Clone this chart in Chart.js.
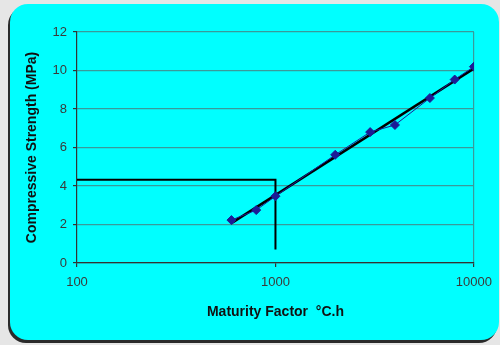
<!DOCTYPE html>
<html>
<head>
<meta charset="utf-8">
<script src="https://cdn.jsdelivr.net/npm/chart.js@4"></script>
<style>
  body { margin: 0; background: #e6e6e6; width: 500px; height: 345px; overflow: hidden; position: relative; }
  #panel { position: absolute; left: 10px; top: 4px; width: 489px; height: 336px; background: #00ffff;
           border-radius: 18px; box-shadow: -2px 3px 0 #2a2a2a; }
  #wrap { position: absolute; left: 0; top: 0; width: 500px; height: 345px; }
</style>
</head>
<body>
<div id="panel"></div>
<div id="wrap"><canvas id="maturityChart"></canvas></div>
<script>
// maturity (°C.h) vs strength (MPa)
const maturity = [600, 800, 1000, 2000, 3000, 4000, 6000, 8000, 10000];
const strength = [2.23, 2.75, 3.47, 5.62, 6.8, 7.17, 8.57, 9.53, 10.2];
// reading lines: strength at 1000 °C.h
const refX = [100, 1000, 1000];
const refY = [4.33, 4.33, 0.7];
const xTicks = [100, 1000, 10000];
const yTicks = [0, 2, 4, 6, 8, 10, 12];

// log fit for the trend line
function logFit(xs, ys) {
  const lx = xs.map(v => Math.log10(v));
  const n = xs.length;
  const mx = lx.reduce((a, b) => a + b, 0) / n;
  const my = ys.reduce((a, b) => a + b, 0) / n;
  let sxy = 0, sxx = 0;
  lx.forEach((v, i) => { sxy += (v - mx) * (ys[i] - my); sxx += (v - mx) * (v - mx); });
  const b = sxy / sxx;
  return x => my + b * (Math.log10(x) - mx);
}
const fit = logFit(maturity, strength);
const trendX = [maturity[0], maturity[maturity.length - 1]];

const tickFont = { family: 'Liberation Sans', size: 13 };
const titleFont = { family: 'Liberation Sans', size: 14, weight: 'bold' };

new Chart(document.getElementById('maturityChart'), {
  type: 'scatter',
  data: {
    datasets: [
      {
        label: 'Strength',
        data: maturity.map((x, i) => ({ x, y: strength[i] })),
        showLine: true,
        borderColor: '#1c1c96',
        borderWidth: 1,
        backgroundColor: '#1c1c96',
        pointStyle: 'rectRot',
        pointRadius: 4.5,
        order: 0
      },
      {
        label: 'Trend',
        data: trendX.map(x => ({ x, y: fit(x) })),
        showLine: true,
        borderColor: '#000000',
        borderWidth: 2.5,
        pointRadius: 0,
        order: 1
      },
      {
        label: 'Reading',
        data: refX.map((x, i) => ({ x, y: refY[i] })),
        showLine: true,
        borderColor: '#000000',
        borderWidth: 2,
        pointRadius: 0,
        order: 2
      }
    ]
  },
  options: {
    responsive: true,
    maintainAspectRatio: false,
    animation: false,
    layout: { padding: { left: 0, top: 32, right: 26, bottom: 0 } },
    plugins: { legend: { display: false }, tooltip: { enabled: false } },
    scales: {
      x: {
        type: 'logarithmic',
        min: 100,
        max: 10000,
        afterBuildTicks: s => { s.ticks = xTicks.map(v => ({ value: v })); },
        afterFit: s => { s.height = 82; },
        ticks: { font: tickFont, color: '#3a3a3a', padding: 8, maxRotation: 0,
                 callback: v => String(v) },
        grid: {
          color: c => (c.tick && c.tick.value === 10000 ? '#3a9a9a' : 'transparent'),
          tickColor: '#333',
          tickLength: 4,
          lineWidth: 1.2
        },
        border: { color: '#333', width: 1.2 },
        title: { display: true, text: 'Maturity Factor  °C.h', font: titleFont, color: '#111',
                 padding: { bottom: 24 } }
      },
      y: {
        min: 0,
        max: 12,
        afterBuildTicks: s => { s.ticks = yTicks.map(v => ({ value: v })); },
        afterFit: s => { s.width = 77; },
        ticks: { font: tickFont, color: '#3a3a3a', padding: 6 },
        grid: { color: '#3a9a9a', tickColor: '#333', tickLength: 4, lineWidth: 1.2 },
        border: { color: '#333', width: 1.2 },
        title: { display: true, text: 'Compressive Strength (MPa)', font: titleFont,
                 color: '#111', padding: { top: 24 } }
      }
    }
  }
});
</script>
</body>
</html>
